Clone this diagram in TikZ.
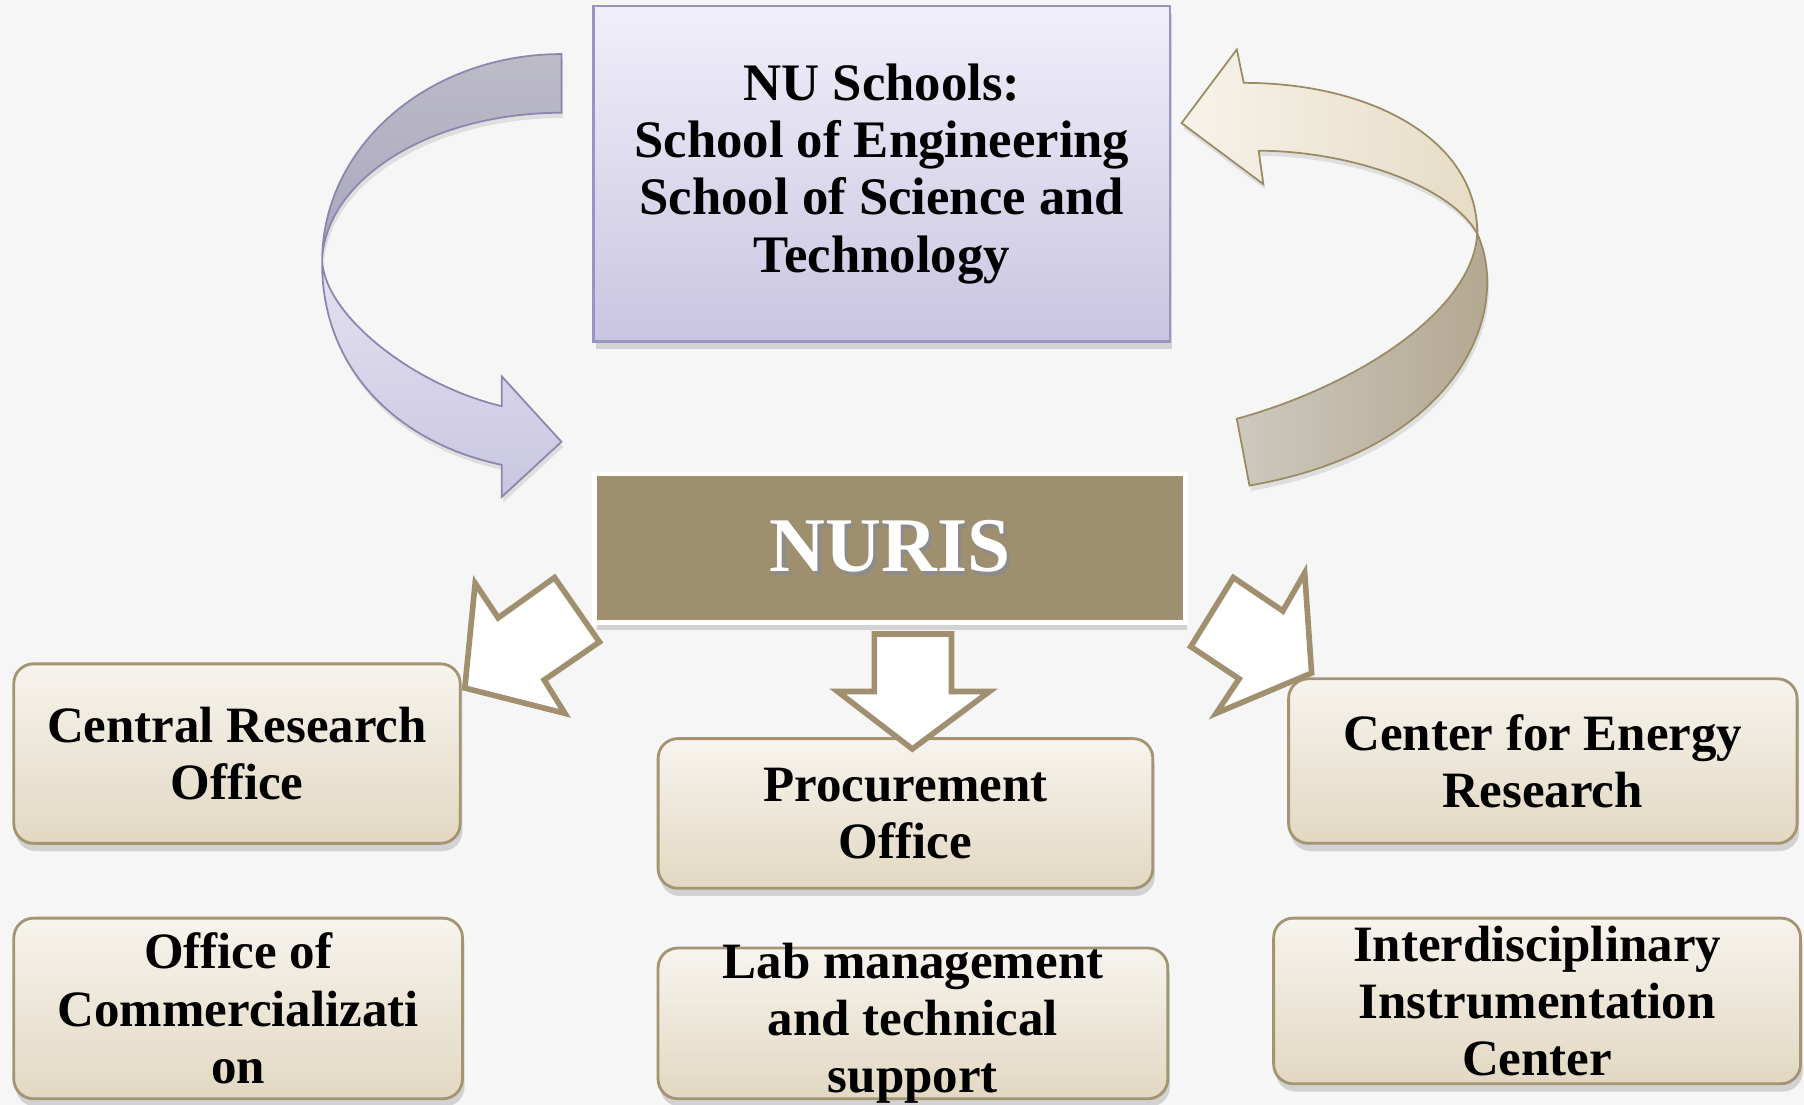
\documentclass[tikz,border=0pt]{standalone}
\usepackage{fontspec}
\setmainfont{Liberation Serif}
\usetikzlibrary{shadows}

\definecolor{bgcol}{HTML}{F6F6F6}
\definecolor{lavtop}{HTML}{F0EFF9}
\definecolor{lavbottom}{HTML}{C9C5E2}
\definecolor{lavedge}{HTML}{9995C2}
\definecolor{lavback}{HTML}{BCBBC7}
\definecolor{lavbackdark}{HTML}{A9A7BE}
\definecolor{lavfront}{HTML}{E3E1F1}
\definecolor{lavfrontdark}{HTML}{C9C6E1}
\definecolor{lavline}{HTML}{8A86AE}
\definecolor{tanfront}{HTML}{F7F3EA}
\definecolor{tanfrontdark}{HTML}{E6DCC6}
\definecolor{tanback}{HTML}{CDC9BF}
\definecolor{tanbackdark}{HTML}{B1A58D}
\definecolor{tanline}{HTML}{9A8B62}
\definecolor{nurisfill}{HTML}{9E8F6F}
\definecolor{arrowedge}{HTML}{A09070}
\definecolor{unittop}{HTML}{F7F4EE}
\definecolor{unitbottom}{HTML}{E2D8C2}
\definecolor{unitedge}{HTML}{A39572}

\newcommand{\shadowed}[1]{\makebox[0pt][l]{\hspace{1pt}\raisebox{-1pt}{\color{black!45}#1}}#1}

\tikzset{
  schoolbox/.style={rectangle, draw=lavedge, line width=0.7pt, top color=lavtop, bottom color=lavbottom,
    align=center, font=\fontsize{15}{16.3}\selectfont\bfseries,
    drop shadow={shadow xshift=0.6pt, shadow yshift=-2.2pt, opacity=0.3}},
  nurisbox/.style={rectangle, draw=white, line width=1.4pt, fill=nurisfill, text=white,
    font=\fontsize{22}{24}\selectfont\bfseries,
    drop shadow={shadow xshift=0.6pt, shadow yshift=-2.2pt, opacity=0.3}},
  unit/.style={rectangle, rounded corners=5.6pt, draw=unitedge, line width=0.8pt,
    top color=unittop, bottom color=unitbottom,
    drop shadow={shadow xshift=0.6pt, shadow yshift=-2.2pt, opacity=0.3}},
  unitlabel/.style={align=center, inner sep=0pt, font=\fontsize{14.5}{16.3}\selectfont\bfseries},
  curveleft/.style={draw=lavline, line width=0.5pt,
    drop shadow={shadow xshift=0.5pt, shadow yshift=-1.5pt, opacity=0.2}},
  curveright/.style={draw=tanline, line width=0.5pt,
    drop shadow={shadow xshift=0.5pt, shadow yshift=-1.5pt, opacity=0.2}},
  blockarrow/.style={draw=arrowedge, line width=1.6pt, fill=white, line join=miter},
}

\begin{document}
\begin{tikzpicture}[x=0.011505cm, y=-0.011505cm]
  % Background
  \fill[bgcol] (0,0) rectangle (1568,960);
  \useasboundingbox (0,0) rectangle (1568,960);

  % Nodes with absolute positioning
  \node[schoolbox, minimum width=5.764cm, minimum height=3.359cm] (schools) at (766.5,151)
    {NU Schools:\\School of Engineering\\School of Science and\\Technology};
  \node[nurisbox, minimum width=5.902cm, minimum height=1.484cm] (nuris) at (773.5,476.5) {\shadowed{NURIS}};

  \node[unit, minimum width=4.464cm, minimum height=1.795cm,
    label={[unitlabel]center:Central Research\\Office}] (central) at (206,655) {};
  \node[unit, minimum width=4.947cm, minimum height=1.496cm,
    label={[unitlabel]center:Procurement\\Office}] (procurement) at (787,707) {};
  \node[unit, minimum width=5.085cm, minimum height=1.645cm,
    label={[unitlabel]center:Center for Energy\\Research}] (energy) at (1341,661.5) {};
  \node[unit, minimum width=4.487cm, minimum height=1.806cm,
    label={[unitlabel]center:Office of\\Commercializati\\on}] (commerce) at (207,876.5) {};
  \node[unit, minimum width=5.097cm, minimum height=1.507cm,
    label={[unitlabel]center:Lab management\\and technical\\support}] (lab) at (793.5,889.5) {};
  \node[unit, minimum width=5.269cm, minimum height=1.657cm,
    label={[unitlabel]center:Interdisciplinary\\Instrumentation\\Center}] (instrument) at (1336,870) {};

  % Curved arrows
  \path[curveleft, top color=lavback, bottom color=lavbackdark]
    (488,47) .. controls (372.6,47) and (280,127) .. (280,227)
    .. controls (282,156) and (374,98) .. (488,98) -- cycle;
  \path[curveleft, top color=lavfront, bottom color=lavfrontdark]
    (280,227) .. controls (283,275) and (360,335) .. (436,353)
    -- (436,327) -- (488,384) -- (436,432) -- (436,404)
    .. controls (345,385) and (279,320) .. (280,227) -- cycle;

  \path[curveright, left color=tanfront, right color=tanfrontdark]
    (1027,107) -- (1075,43) -- (1081,72)
    .. controls (1190,72) and (1284,120) .. (1284,203)
    .. controls (1260,160) and (1170,131) .. (1094,131)
    -- (1098,160) -- cycle;
  \path[curveright, left color=tanback, right color=tanbackdark]
    (1284,203) .. controls (1314,270) and (1270,390) .. (1086,422)
    -- (1075,364) .. controls (1180,335) and (1280,270) .. (1284,203) -- cycle;

  % Block arrows
  \draw[blockarrow] (482,502) -- (433,537) -- (413,507) -- (404,598) -- (491,620) -- (473,591) -- (521,558) -- cycle;
  \draw[blockarrow] (760,551) -- (827,551) -- (827,601) -- (860,601) -- (793,651) -- (728,601) -- (760,601) -- cycle;
  \draw[blockarrow] (1072,502) -- (1115,531) -- (1134,498) -- (1140,585) -- (1057,620) -- (1077,590) -- (1035,562) -- cycle;
\end{tikzpicture}
\end{document}
